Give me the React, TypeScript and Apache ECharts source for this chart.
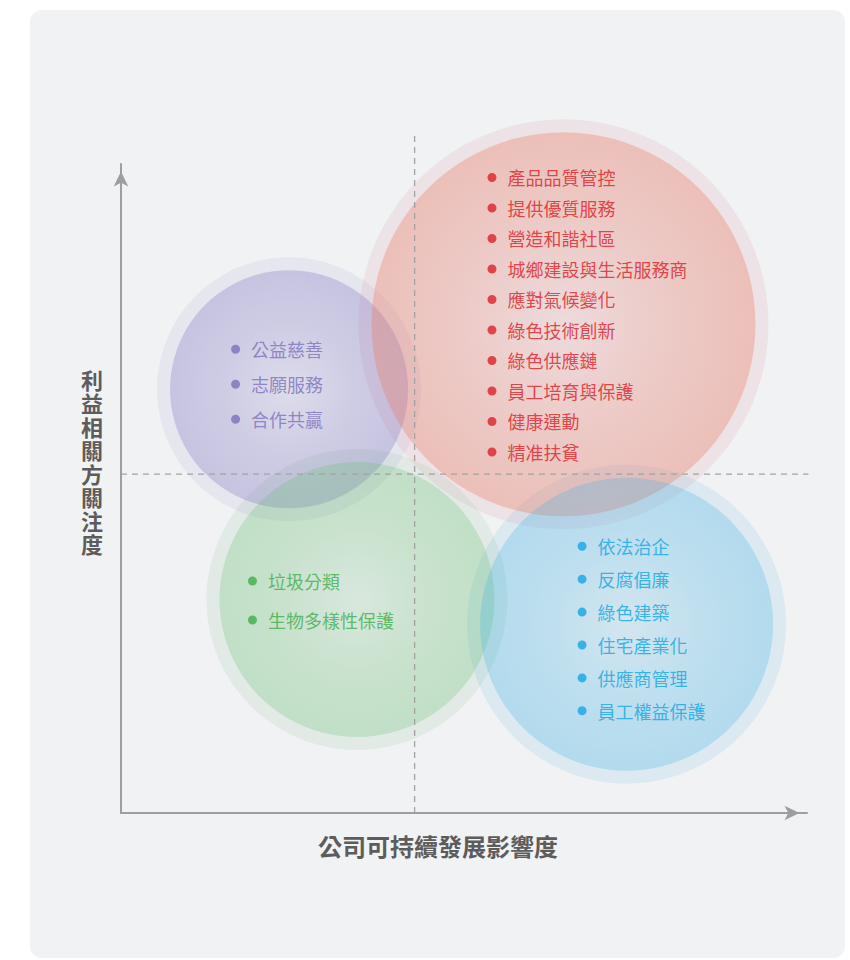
import React, { useEffect, useRef } from 'react';
import * as echarts from 'echarts';

// ---- data ----
const xAxisName = '公司可持續發展影響度';
const yAxisName = '利益相關方關注度';

// bubble centres on the (0-100) impact / concern scales, and bubble diameters
const impactX = [24.5, 64.5, 34.4, 73.7];
const concernY = [65.3, 75.3, 32.9, 29.1];
const bubbleSize = [238, 384, 275, 293];

const purpleItems = ['公益慈善', '志願服務', '合作共贏'];
const redItems = [
  '產品品質管控',
  '提供優質服務',
  '營造和諧社區',
  '城鄉建設與生活服務商',
  '應對氣候變化',
  '綠色技術創新',
  '綠色供應鏈',
  '員工培育與保護',
  '健康運動',
  '精准扶貧',
];
const greenItems = ['垃圾分類', '生物多樣性保護'];
const blueItems = ['依法治企', '反腐倡廉', '綠色建築', '住宅產業化', '供應商管理', '員工權益保護'];
const itemLists = [purpleItems, redItems, greenItems, blueItems];

// quadrant divider values
const quadrantX = 42.8;
const quadrantY = 52.2;
const dividerTopY = 104.5;
const dividerRightX = 100.2;

// ---- styles ----
const FONT = '"Noto Sans CJK TC", "Noto Sans CJK SC", sans-serif';
const styles = [
  { base: '120,110,190', a0: 0.1, a1: 0.36, ring: 'rgba(120,110,190,0.11)', text: '#7b72b9', lh: 35, offset: [-58, -5] },
  { base: '234,122,94', a0: 0.1, a1: 0.42, ring: 'rgba(215,120,140,0.15)', text: '#dc2129', lh: 30.5, offset: [-76, -9.6] },
  { base: '90,190,100', a0: 0.08, a1: 0.3, ring: 'rgba(90,170,100,0.13)', text: '#3fad4b', lh: 39, offset: [-109, 1] },
  { base: '60,180,230', a0: 0.08, a1: 0.33, ring: 'rgba(80,170,210,0.15)', text: '#14a6e3', lh: 32.9, offset: [-49, 4.4] },
];

export default function App() {
  const ref = useRef<HTMLDivElement>(null);

  useEffect(() => {
    if (!ref.current) return;
    const chart = echarts.init(ref.current, undefined, { renderer: 'svg' });

    const ringData = impactX.map((x, i) => ({
      value: [x, concernY[i], bubbleSize[i]],
      itemStyle: { color: styles[i].ring },
    }));

    const innerData = impactX.map((x, i) => {
      const s = styles[i];
      return {
        value: [x, concernY[i], bubbleSize[i]],
        itemStyle: {
          color: new echarts.graphic.RadialGradient(0.5, 0.5, 0.5, [
            { offset: 0, color: `rgba(${s.base},${s.a0})` },
            { offset: 0.55, color: `rgba(${s.base},${(s.a0 + s.a1) / 2 + 0.04})` },
            { offset: 1, color: `rgba(${s.base},${s.a1})` },
          ]),
        },
        label: {
          show: true,
          position: 'inside',
          align: 'left',
          verticalAlign: 'middle',
          offset: s.offset,
          formatter: itemLists[i].map((t) => `{d|}{t|${t}}`).join('\n'),
          rich: {
            d: {
              width: 9,
              height: 9,
              borderRadius: 4.5,
              backgroundColor: s.text,
              lineHeight: s.lh,
            },
            t: {
              fontSize: 18,
              fontFamily: FONT,
              color: s.text,
              padding: [0, 0, 0, 11],
              lineHeight: s.lh,
            },
          },
        },
      };
    });

    const axisLine = {
      show: true,
      symbol: ['none', 'arrow'],
      symbolSize: [11, 15],
      symbolOffset: [0, -7.5],
      lineStyle: { color: '#9e9e9e', width: 2 },
    };
    const dashStyle = { color: '#a2a2a2', width: 1.3, type: [6, 5] as number[] };

    chart.setOption({
      animation: false,
      backgroundColor: '#ffffff',
      graphic: [
        {
          type: 'rect',
          shape: { x: 30, y: 10, width: 815, height: 948, r: 12 },
          style: { fill: '#f1f2f4' },
          z: 0,
          silent: true,
        },
        {
          type: 'text',
          x: 92,
          y: 461,
          z: 5,
          silent: true,
          style: {
            text: yAxisName.split('').join('\n'),
            fill: '#5c5c5c',
            font: `bold 22px ${FONT}`,
            lineHeight: 23.5,
            align: 'center',
            verticalAlign: 'middle',
          },
        },
      ],
      grid: { left: 121, right: 43, top: 164, bottom: 147 },
      xAxis: {
        type: 'value',
        min: 0,
        max: 100,
        axisLine,
        axisTick: { show: false },
        axisLabel: { show: false },
        splitLine: { show: false },
        name: xAxisName,
        nameLocation: 'middle',
        nameGap: 20,
        nameTextStyle: {
          fontSize: 24,
          fontWeight: 'bold',
          fontFamily: FONT,
          color: '#5c5c5c',
          padding: [0, 52, 0, 0],
        },
      },
      yAxis: {
        type: 'value',
        min: 0,
        max: 100,
        axisLine,
        axisTick: { show: false },
        axisLabel: { show: false },
        splitLine: { show: false },
      },
      series: [
        {
          type: 'scatter',
          z: 2,
          silent: true,
          symbol: 'circle',
          symbolSize: (v: number[]) => v[2] + 26,
          data: ringData,
          emphasis: { disabled: true },
        },
        {
          type: 'scatter',
          z: 3,
          silent: true,
          symbol: 'circle',
          symbolSize: (v: number[]) => v[2],
          data: innerData,
          emphasis: { disabled: true },
        },
        {
          type: 'line',
          z: 4,
          silent: true,
          clip: false,
          symbol: 'none',
          lineStyle: dashStyle,
          data: [
            [quadrantX, 0],
            [quadrantX, dividerTopY],
          ],
        },
        {
          type: 'line',
          z: 4,
          silent: true,
          clip: false,
          symbol: 'none',
          lineStyle: dashStyle,
          data: [
            [0, quadrantY],
            [dividerRightX, quadrantY],
          ],
        },
      ],
    });

    return () => chart.dispose();
  }, []);

  return (
    <div
      ref={ref}
      style={{ position: 'absolute', left: 0, top: 0, width: 850, height: 960 }}
    />
  );
}
